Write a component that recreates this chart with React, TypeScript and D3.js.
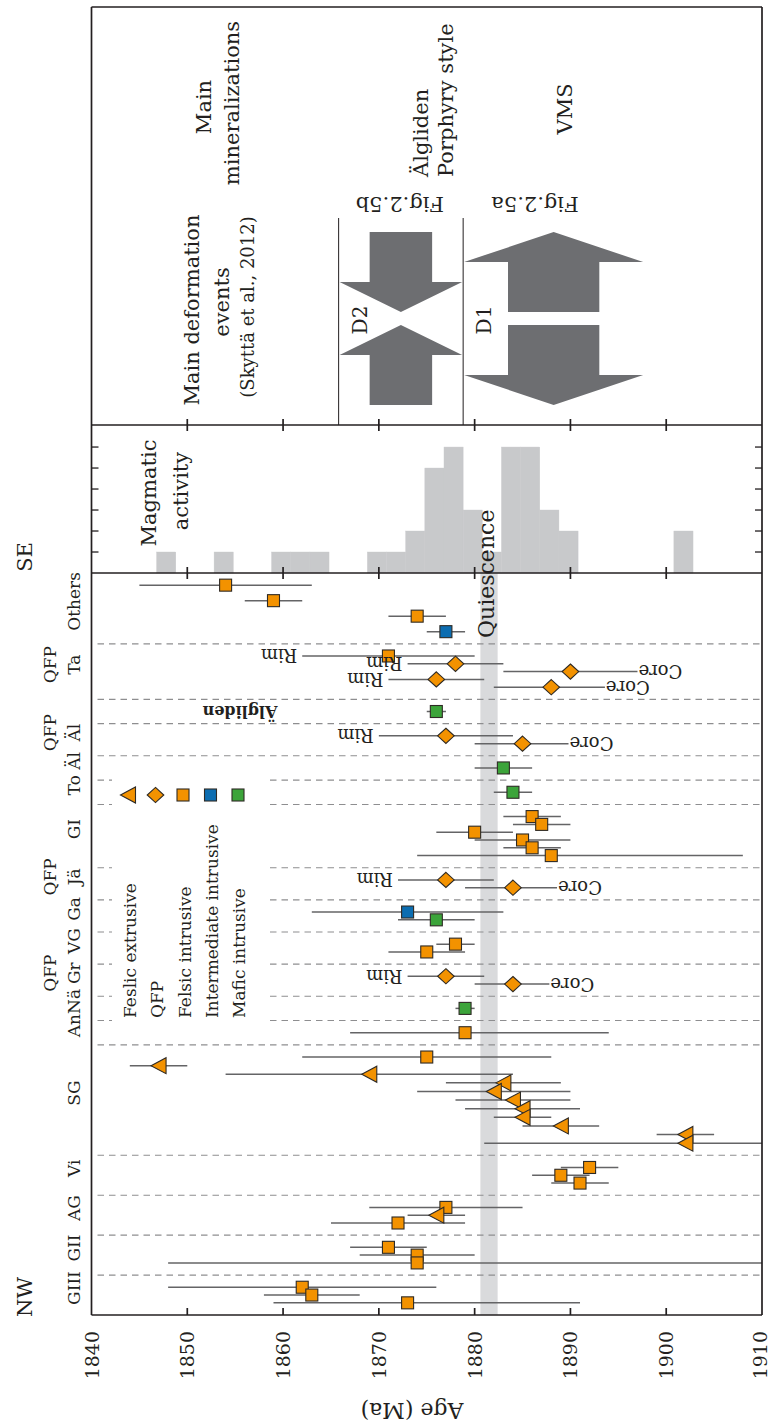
import React from 'react';
import * as d3 from 'd3';

// ---------- data ----------
type Kind = 'fe' | 'qfp' | 'fi' | 'ii' | 'mi';

const AGE_MIN = 1840;
const AGE_MAX = 1910;
const ageTicks = [1840, 1850, 1860, 1870, 1880, 1890, 1900, 1910];

// sample groups, listed from SE (top) to NW (bottom)
const groupLabels = ['Others', 'Ta', 'Älgliden', 'Äl', 'Äl', 'To', 'GI', 'Jä', 'Ga', 'VG', 'Gr', 'Nä', 'An', 'SG', 'Vi', 'AG', 'GII', 'GIII'];
const groupPrefix = ['', 'QFP', '', 'QFP', '', '', '', 'QFP', '', '', 'QFP', '', '', '', '', '', '', ''];
const groupInnerLabel = ['', '', 'Älgliden', '', '', '', '', '', '', '', '', '', '', '', '', '', '', ''];

// [group index, rock type, age (Ma), minus error, plus error, zircon domain]
const dates: [number, Kind, number, number, number, string][] = [
  [0, 'fi', 1854, 9, 9, ''],
  [0, 'fi', 1859, 3, 3, ''],
  [0, 'fi', 1874, 3, 3, ''],
  [0, 'ii', 1877, 2, 2, ''],
  [1, 'fi', 1871, 9, 9, 'Rim'],
  [1, 'qfp', 1878, 5, 5, 'Rim'],
  [1, 'qfp', 1890, 7, 7, 'Core'],
  [1, 'qfp', 1876, 5, 5, 'Rim'],
  [1, 'qfp', 1888, 6, 5.6, 'Core'],
  [2, 'mi', 1876, 1, 1, ''],
  [3, 'qfp', 1877, 7, 7, 'Rim'],
  [3, 'qfp', 1885, 5, 4.8, 'Core'],
  [4, 'mi', 1883, 3, 3, ''],
  [5, 'mi', 1884, 2, 2, ''],
  [6, 'fi', 1886, 3, 3, ''],
  [6, 'fi', 1887, 3, 3, ''],
  [6, 'fi', 1880, 4, 4, ''],
  [6, 'fi', 1885, 5, 5, ''],
  [6, 'fi', 1886, 3, 3, ''],
  [6, 'fi', 1888, 14, 20, ''],
  [7, 'qfp', 1877, 5, 5, 'Rim'],
  [7, 'qfp', 1884, 5, 4.6, 'Core'],
  [8, 'ii', 1873, 10, 10, ''],
  [8, 'mi', 1876, 4, 4, ''],
  [9, 'fi', 1878, 2, 2, ''],
  [9, 'fi', 1875, 4, 4, ''],
  [10, 'qfp', 1877, 4, 4, 'Rim'],
  [10, 'qfp', 1884, 4, 3.8, 'Core'],
  [11, 'mi', 1879, 1, 1, ''],
  [12, 'fi', 1879, 12, 15, ''],
  [13, 'fi', 1875, 13, 13, ''],
  [13, 'fe', 1847, 3, 3, ''],
  [13, 'fe', 1869, 15, 15, ''],
  [13, 'fe', 1883, 6, 6, ''],
  [13, 'fe', 1882, 8, 8, ''],
  [13, 'fe', 1884, 6, 6, ''],
  [13, 'fe', 1885, 6, 6, ''],
  [13, 'fe', 1885, 3, 3, ''],
  [13, 'fe', 1889, 4, 4, ''],
  [13, 'fe', 1902, 3, 3, ''],
  [13, 'fe', 1902, 21, 21, ''],
  [14, 'fi', 1892, 3, 3, ''],
  [14, 'fi', 1889, 3, 3, ''],
  [14, 'fi', 1891, 3, 3, ''],
  [15, 'fi', 1877, 8, 8, ''],
  [15, 'fe', 1876, 3, 3, ''],
  [15, 'fi', 1872, 7, 7, ''],
  [16, 'fi', 1871, 4, 4, ''],
  [16, 'fi', 1874, 6, 6, ''],
  [16, 'fi', 1874, 26, 40, ''],
  [17, 'fi', 1862, 14, 14, ''],
  [17, 'fi', 1863, 5, 5, ''],
  [17, 'fi', 1873, 14, 18, ''],
];

// magmatic activity histogram (2 Ma bins)
const histBinStart = [1846.8, 1852.8, 1858.8, 1860.8, 1862.8, 1868.8, 1870.8, 1872.8, 1874.8, 1876.8, 1878.8, 1880.8, 1882.8, 1884.8, 1886.8, 1888.8, 1900.8];
const histCount = [1, 1, 1, 1, 1, 1, 1, 2, 5, 6, 3, 1, 6, 6, 3, 2, 2];
const HIST_BIN = 2;
const histTicks = [1, 2, 3, 4, 5, 6];

// quiescence window (Ma)
const quiescence = [1880.6, 1882.4];

// deformation events (Skyttä et al., 2012)
const deformNames = ['D2', 'D1'];
const deformFrom = [1865.8, 1878.8];
const deformTo = [1878.8, 1897.7];
const deformStyle = ['converge', 'diverge'];
const figRefs = ['Fig.2.5b', 'Fig.2.5a'];
const figRefAge = [1872.2, 1886.3];

// legend
const legendKinds: Kind[] = ['fe', 'qfp', 'fi', 'ii', 'mi'];
const legendNames = ['Feslic extrusive', 'QFP', 'Felsic intrusive', 'Intermediate intrusive', 'Mafic intrusive'];

// ---------- layout & style ----------
const W = 772;
const H = 1427;
const X0 = 91.5;
const X1 = 762;
const TOP_Y = 7;
const HIST_TOP = 425;
const MAIN_TOP = 573;
const MAIN_BOTTOM = 1315;

const ROW_STEP_DEFAULT = 7.7;
const ROW_STEP: Record<string, number> = { Others: 15.3, SG: 8.5 };
const GROUP_PAD = 12;

const INK = '#231f20';
const ORANGE = '#f39200';
const COLORS: Record<Kind, string> = { fe: ORANGE, qfp: ORANGE, fi: ORANGE, ii: '#0c6db1', mi: '#3ca43a' };
const ERR = '#646466';
const FONT = "'DejaVu Serif', 'Liberation Serif', serif";

function Marker({ kind, cx, cy }: { kind: Kind; cx: number; cy: number }) {
  const common = { fill: COLORS[kind], stroke: '#2e2a25', strokeWidth: 1.1 };
  if (kind === 'fe') {
    return <polygon {...common} points={`${cx - 7.5},${cy} ${cx + 7.5},${cy - 8} ${cx + 7.5},${cy + 8}`} />;
  }
  if (kind === 'qfp') {
    return <polygon {...common} points={`${cx},${cy - 7.6} ${cx + 8.3},${cy} ${cx},${cy + 7.6} ${cx - 8.3},${cy}`} />;
  }
  return <rect {...common} x={cx - 6} y={cy - 6} width={12} height={12} />;
}

function arrowPath(xa: number, xb: number, yEnd: number, yBase: number, yTip: number) {
  const xm = (xa + xb) / 2;
  const sh = (xb - xa) * 0.255;
  const p = d3.path();
  p.moveTo(xm - sh, yEnd);
  p.lineTo(xm - sh, yBase);
  p.lineTo(xa, yBase);
  p.lineTo(xm, yTip);
  p.lineTo(xb, yBase);
  p.lineTo(xm + sh, yBase);
  p.lineTo(xm + sh, yEnd);
  p.closePath();
  return p.toString();
}

export default function App() {
  const x = d3.scaleLinear().domain([AGE_MIN, AGE_MAX]).range([X0, X1]);
  const yHist = d3.scaleLinear().domain([0, 7.05]).range([MAIN_TOP, HIST_TOP]);

  // vertical layout of the sample rows, in layout units
  const groupRows = groupLabels.map((_, gi) => dates.map((d, i) => (d[0] === gi ? i : -1)).filter((i) => i >= 0));
  const rowUnit: number[] = new Array(dates.length).fill(0);
  const groupStart: number[] = [];
  const groupEnd: number[] = [];
  let cursor = 0;
  groupLabels.forEach((name, gi) => {
    const step = ROW_STEP[name] ?? ROW_STEP_DEFAULT;
    groupStart.push(cursor);
    cursor += GROUP_PAD;
    groupRows[gi].forEach((ri, k) => {
      rowUnit[ri] = cursor + k * step;
    });
    cursor += (groupRows[gi].length - 1) * step + GROUP_PAD;
    groupEnd.push(cursor);
  });
  const y = d3.scaleLinear().domain([0, cursor]).range([MAIN_TOP, MAIN_BOTTOM]);

  const clampAge = (a: number) => Math.max(AGE_MIN, Math.min(AGE_MAX, a));
  const innerTicks = ageTicks.filter((t) => t > AGE_MIN && t < AGE_MAX);

  // deformation arrows geometry
  const ARROW_TOP = 232;
  const ARROW_BOTTOM = 405;
  const GAP_TOP = 312;
  const GAP_BOTTOM = 325;
  const HEAD = 30;

  return (
    <svg
      width={W}
      height={H}
      viewBox={`0 0 ${W} ${H}`}
      style={{ position: 'absolute', left: 0, top: 0, background: '#fff' }}
      fontFamily={FONT}
      fill={INK}
    >
      <rect x={0} y={0} width={W} height={H} fill="#fff" />

      {/* ---------- top panel: deformation & mineralization ---------- */}
      <g fill={INK}>
        <text transform={`translate(199,310) rotate(-90)`} textAnchor="middle" fontSize={21}>Main deformation</text>
        <text transform={`translate(229,302) rotate(-90)`} textAnchor="middle" fontSize={21}>events</text>
        <text transform={`translate(254,307) rotate(-90)`} textAnchor="middle" fontSize={18}>(Skyttä et al., 2012)</text>
        <text transform={`translate(211,107) rotate(-90)`} textAnchor="middle" fontSize={21}>Main</text>
        <text transform={`translate(239,103) rotate(-90)`} textAnchor="middle" fontSize={21}>mineralizations</text>
        <text transform={`translate(428,177) rotate(-90)`} textAnchor="start" fontSize={21}>Älgliden</text>
        <text transform={`translate(453,177) rotate(-90)`} textAnchor="start" fontSize={21}>Porphyry style</text>
        <text transform={`translate(572,109) rotate(-90)`} textAnchor="middle" fontSize={21}>VMS</text>
      </g>
      {deformNames.map((name, i) => {
        const xa = x(deformFrom[i]) + 1;
        const xb = x(deformTo[i]) - 1;
        const conv = deformStyle[i] === 'converge';
        const upper = conv
          ? arrowPath(xa, xb, ARROW_TOP, GAP_TOP - HEAD, GAP_TOP)
          : arrowPath(xa, xb, GAP_TOP, ARROW_TOP + HEAD, ARROW_TOP);
        const lower = conv
          ? arrowPath(xa, xb, ARROW_BOTTOM, GAP_BOTTOM + HEAD, GAP_BOTTOM)
          : arrowPath(xa, xb, GAP_BOTTOM, ARROW_BOTTOM - HEAD, ARROW_BOTTOM);
        return (
          <g key={name}>
            <line x1={x(deformFrom[i])} x2={x(deformFrom[i])} y1={218} y2={HIST_TOP} stroke={INK} strokeWidth={1} />
            <path d={upper} fill="#6d6e71" />
            <path d={lower} fill="#6d6e71" />
            <text transform={`translate(${x(deformFrom[i]) + 28},320) rotate(-90)`} textAnchor="middle" fontSize={20}>{name}</text>
            <text
              transform={`translate(${x(figRefAge[i])},204) rotate(180)`}
              textAnchor="middle"
              dominantBaseline="central"
              fontSize={21}
            >
              {figRefs[i]}
            </text>
          </g>
        );
      })}

      {/* ---------- magmatic activity histogram ---------- */}
      {histBinStart.map((s, i) => (
        <rect
          key={`h${i}`}
          x={x(s)}
          y={yHist(histCount[i])}
          width={x(s + HIST_BIN) - x(s)}
          height={MAIN_TOP - yHist(histCount[i])}
          fill="#c8c9cb"
          stroke="#c8c9cb"
          strokeWidth={0.4}
        />
      ))}
      {histTicks.map((c) => (
        <g key={`ht${c}`} stroke={INK} strokeWidth={1.3}>
          <line x1={X0} x2={X0 + 7} y1={yHist(c)} y2={yHist(c)} />
          <line x1={X1} x2={X1 - 7} y1={yHist(c)} y2={yHist(c)} />
        </g>
      ))}
      <text transform={`translate(156,493) rotate(-90)`} textAnchor="middle" fontSize={21}>Magmatic</text>
      <text transform={`translate(188,491) rotate(-90)`} textAnchor="middle" fontSize={21}>activity</text>

      {/* ---------- main panel ---------- */}
      <rect
        x={x(quiescence[0])}
        y={MAIN_TOP}
        width={x(quiescence[1]) - x(quiescence[0])}
        height={MAIN_BOTTOM - MAIN_TOP}
        fill="#d9dadc"
      />
      {groupEnd.slice(0, -1).map((e, i) => (
        <line
          key={`dash${i}`}
          x1={X0 + 6}
          x2={X1}
          y1={y(e)}
          y2={y(e)}
          stroke="#8e8e90"
          strokeWidth={1.1}
          strokeDasharray="6.5,5"
        />
      ))}

      {/* legend */}
      <rect x={112} y={770} width={153} height={262} fill="#fff" />
      {legendKinds.map((k, i) => (
        <g key={`lg${k}`}>
          <Marker kind={k} cx={128 + i * 27.5} cy={795} />
          <text transform={`translate(${136 + i * 27.3},1018) rotate(-90)`} textAnchor="start" fontSize={17}>
            {legendNames[i]}
          </text>
        </g>
      ))}

      {/* error bars and dates */}
      {dates.map((d, i) => {
        const yy = y(rowUnit[i]);
        const lo = x(clampAge(d[2] - d[3]));
        const hi = x(clampAge(d[2] + d[4]));
        return (
          <line key={`e${i}`} x1={lo} x2={hi} y1={yy} y2={yy} stroke={ERR} strokeWidth={1.5} />
        );
      })}
      {dates.map((d, i) => (
        <Marker key={`m${i}`} kind={d[1]} cx={x(d[2])} cy={y(rowUnit[i])} />
      ))}
      {dates.map((d, i) => {
        if (!d[5]) return null;
        const yy = y(rowUnit[i]);
        if (d[5] === 'Rim') {
          const lo = x(clampAge(d[2] - d[3]));
          return (
            <text key={`n${i}`} transform={`translate(${lo - 5},${yy}) rotate(180)`} textAnchor="start" dominantBaseline="central" fontSize={18}>
              {d[5]}
            </text>
          );
        }
        const hi = x(clampAge(d[2] + d[4]));
        return (
          <text key={`n${i}`} transform={`translate(${hi + 1},${yy}) rotate(180)`} textAnchor="end" dominantBaseline="central" fontSize={18}>
            {d[5]}
          </text>
        );
      })}
      {groupInnerLabel.map((lbl, gi) =>
        lbl ? (
          <text
            key={`in${gi}`}
            transform={`translate(240,${y((groupStart[gi] + groupEnd[gi]) / 2)}) rotate(180)`}
            textAnchor="middle"
            dominantBaseline="central"
            fontSize={16}
            fontWeight="bold"
          >
            {lbl}
          </text>
        ) : null
      )}

      <text
        transform={`translate(${x((quiescence[0] + quiescence[1]) / 2) + 4.5},638) rotate(-90)`}
        textAnchor="start"
        fontSize={22}
      >
        Quiescence
      </text>

      {/* group labels */}
      {groupLabels.map((name, gi) => {
        if (groupInnerLabel[gi]) return null;
        const cy = y((groupStart[gi] + groupEnd[gi]) / 2) - 7;
        return (
          <g key={`gl${gi}`}>
            <text transform={`translate(80,${cy}) rotate(-90)`} textAnchor="middle" fontSize={17}>{name}</text>
            {groupPrefix[gi] ? (
              <text transform={`translate(56,${cy}) rotate(-90)`} textAnchor="middle" fontSize={17}>{groupPrefix[gi]}</text>
            ) : null}
          </g>
        );
      })}
      <text transform={`translate(32,557) rotate(-90)`} textAnchor="middle" fontSize={21}>SE</text>
      <text transform={`translate(32,1297) rotate(-90)`} textAnchor="middle" fontSize={21}>NW</text>

      {/* frames and ticks */}
      <g stroke={INK} strokeWidth={1.7} fill="none">
        <line x1={X0} x2={X0} y1={TOP_Y} y2={MAIN_BOTTOM} />
        <line x1={X1} x2={X1} y1={TOP_Y} y2={MAIN_BOTTOM} />
        <line x1={X0} x2={X1} y1={TOP_Y} y2={TOP_Y} />
        <line x1={X0} x2={X1} y1={HIST_TOP} y2={HIST_TOP} />
        <line x1={X0} x2={X1} y1={MAIN_TOP} y2={MAIN_TOP} />
        <line x1={X0} x2={X1} y1={MAIN_BOTTOM} y2={MAIN_BOTTOM} />
        {innerTicks.map((t) => (
          <g key={`tk${t}`}>
            <line x1={x(t)} x2={x(t)} y1={HIST_TOP - 6} y2={HIST_TOP + 6} />
            <line x1={x(t)} x2={x(t)} y1={MAIN_TOP - 6} y2={MAIN_TOP + 6} />
            <line x1={x(t)} x2={x(t)} y1={MAIN_BOTTOM - 7} y2={MAIN_BOTTOM} />
          </g>
        ))}
      </g>
      {ageTicks.map((t) => (
        <text
          key={`tl${t}`}
          transform={`translate(${Math.min(x(t), W - 12)},1331) rotate(-90)`}
          textAnchor="end"
          dominantBaseline="central"
          fontSize={19}
        >
          {t}
        </text>
      ))}
      <text transform={`translate(412,1410) rotate(180)`} textAnchor="middle" dominantBaseline="central" fontSize={22}>
        Age (Ma)
      </text>
    </svg>
  );
}
